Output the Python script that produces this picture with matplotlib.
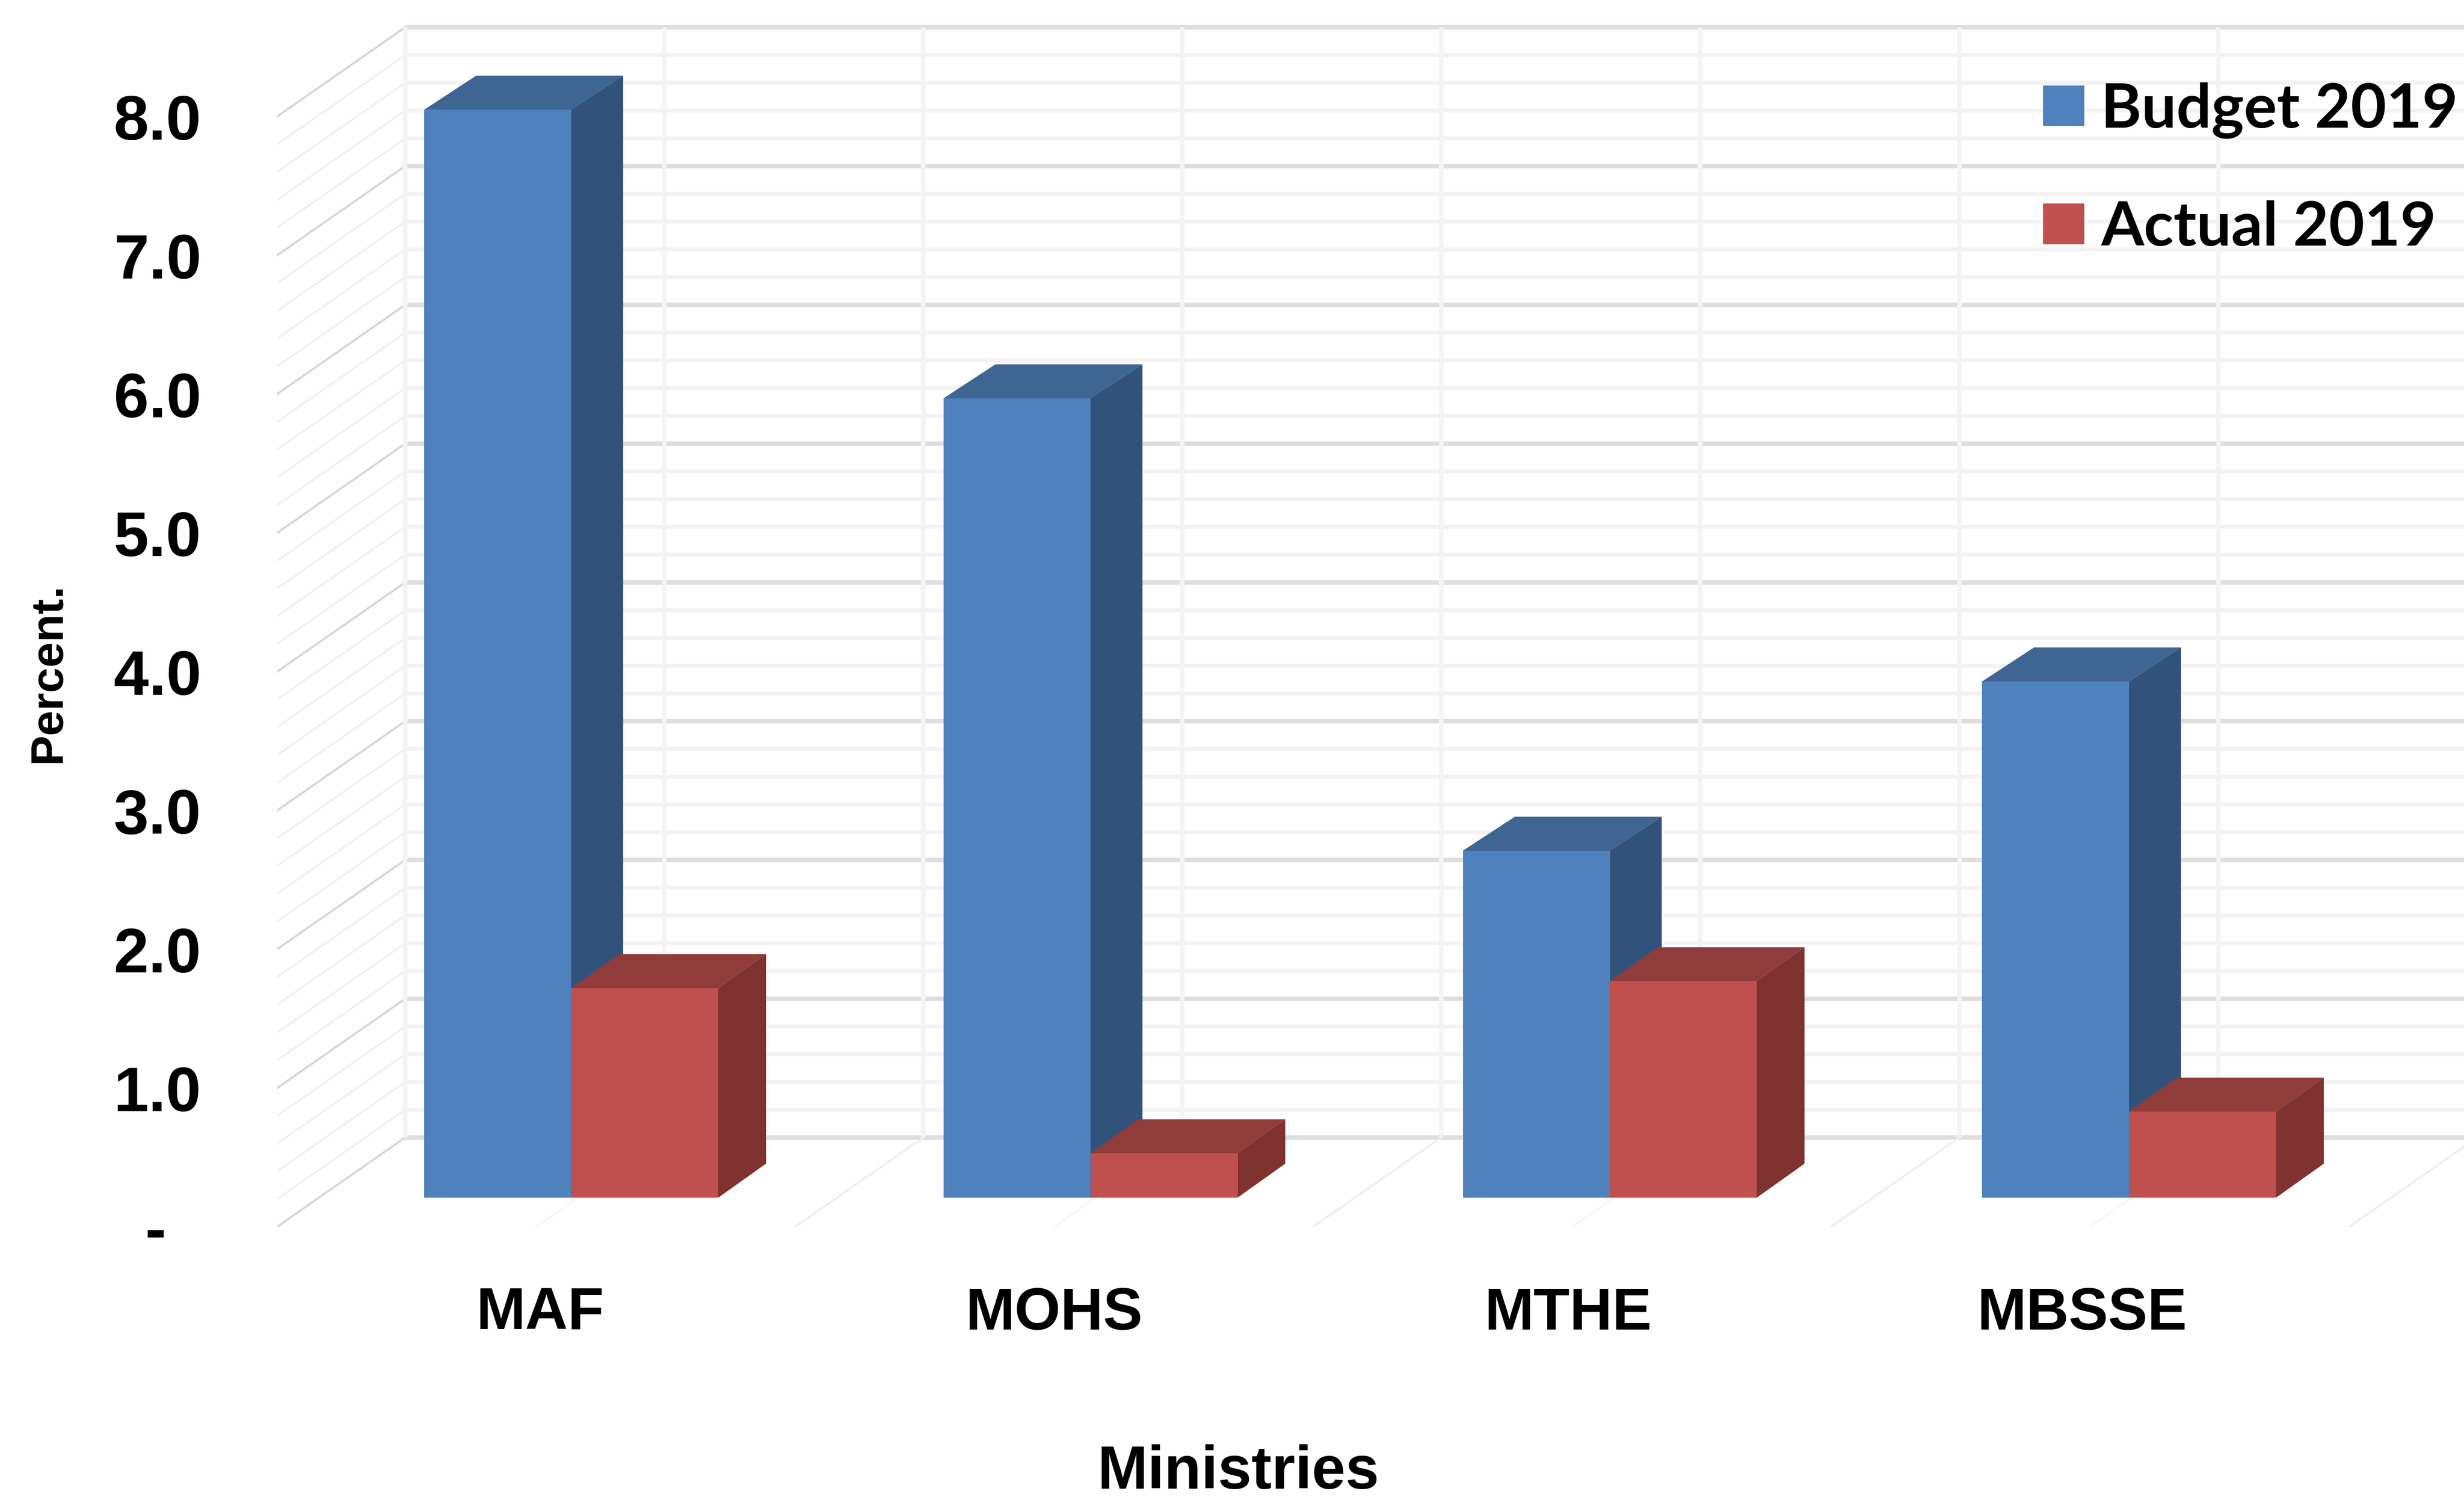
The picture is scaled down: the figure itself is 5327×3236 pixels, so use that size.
import numpy as np
import matplotlib
matplotlib.use("Agg")
import matplotlib.pyplot as plt

# spending by ministry, percent
ministries = ["MAF", "MOHS", "MTHE", "MBSSE"]
budget_2019 = [7.84, 5.76, 2.50, 3.72]
actual_2019 = [1.51, 0.32, 1.56, 0.62]
y_ticks = [0, 1, 2, 3, 4, 5, 6, 7, 8]
y_tick_labels = ["-  ", "1.0", "2.0", "3.0", "4.0", "5.0", "6.0", "7.0", "8.0"]

BG = "#fefefe"
BLUE = ("#4f81bd", "#3f6593", "#31527a")  # front, top, side
RED = ("#c0504d", "#8f3c3a", "#7f3230")

# fake 3D: how far the back wall sits from the front plane, in data units
WALL_DX = 0.2467
WALL_DY = 0.6433
BAR_BASE = 0.21
BAR_W = 0.283
BAR_DX = 0.095
BAR_DY = 0.245

W, H = 5327, 3237
fig = plt.figure(figsize=(W / 100, H / 100), dpi=100, facecolor=BG)
ax = fig.add_axes([599 / W, 1 - 2653 / H, 1 - 599 / W, 2653 / H], facecolor=BG)
ax.set_xlim(-0.5665, 3.645)
ax.set_ylim(0, 2653 / 300)
for s in ax.spines.values():
    s.set_visible(False)

x_left, x_right = ax.get_xlim()

# back wall + side wall grid
for v in np.arange(0, 8.01, 0.2):
    major = abs(v - round(v)) < 1e-6
    ax.plot([x_left + WALL_DX, x_right], [v + WALL_DY] * 2,
            color="#dedede" if major else "#f3f3f3", lw=7 if major else 6,
            solid_capstyle="butt", zorder=1)
    ax.plot([x_left, x_left + WALL_DX], [v, v + WALL_DY],
            color="#d8d8d8" if major else "#eeeeee", lw=3.5 if major else 2.5,
            zorder=1)

# vertical lines on the back wall and the matching floor lines
grid_x = np.arange(x_left + WALL_DX, x_right + 0.1, 0.4988)
for k, gx in enumerate(grid_x):
    ax.plot([gx, gx], [WALL_DY, 8 + WALL_DY], color="#f4f4f4", lw=7,
            solid_capstyle="butt", zorder=1)
    if k > 0:
        ax.plot([gx - WALL_DX, gx], [0, WALL_DY],
                color="#eeeeee" if k % 2 == 0 else "#f7f7f7", lw=3, zorder=1)


def draw_bars(xs, values, colors, depth_x):
    front, top, side = colors
    ax.bar(xs, values, width=BAR_W, bottom=BAR_BASE, color=front, zorder=3)
    for x, v in zip(xs, values):
        x0, x1 = x - BAR_W / 2, x + BAR_W / 2
        y0, y1 = BAR_BASE, BAR_BASE + v
        ax.fill([x0, x1, x1 + depth_x, x0 + depth_x],
                [y1, y1, y1 + BAR_DY, y1 + BAR_DY], color=top, lw=0, zorder=3)
        ax.fill([x1, x1 + depth_x, x1 + depth_x, x1],
                [y0, y0 + BAR_DY, y1 + BAR_DY, y1], color=side, lw=0, zorder=3)


pos = np.arange(len(ministries))
draw_bars(pos - BAR_W / 2, budget_2019, BLUE, BAR_DX + 0.005)
draw_bars(pos + BAR_W / 2, actual_2019, RED, BAR_DX - 0.003)

ax.set_yticks(y_ticks)
ax.set_yticklabels(y_tick_labels, fontfamily="Liberation Sans",
                   fontweight="bold", fontsize=98, color="black")
ax.tick_params(axis="y", length=0, pad=118)
ax.set_xticks(0.99 * pos - 0.06)
ax.set_xticklabels(ministries, fontfamily="Liberation Sans",
                   fontweight="bold", fontsize=92, color="black")
ax.tick_params(axis="x", length=0, pad=92)

ax.set_ylabel("Percent.", fontfamily="Liberation Sans", fontweight="bold",
              fontsize=71, labelpad=0)
ax.yaxis.set_label_coords((150 - 599) / (W - 599), (2653 - 1454) / 2653)
ax.set_xlabel("Ministries", fontfamily="Liberation Sans", fontweight="bold",
              fontsize=94)
ax.xaxis.set_label_coords((2677 - 599) / (W - 599), (2653 - 3122) / 2653)

handles = [plt.Rectangle((0, 0), 1, 1, color=BLUE[0]),
           plt.Rectangle((0, 0), 1, 1, color=RED[0])]
ax.legend(handles, ["Budget 2019", "Actual 2019"], loc="upper left",
          bbox_to_anchor=((4417 - 599) / (W - 599), (2653 - 178) / 2653),
          frameon=False, prop={"family": "Lato", "weight": "bold", "size": 96},
          handlelength=0.66, handleheight=0.62, handletextpad=0.28,
          labelspacing=1.0, borderpad=0, borderaxespad=0)

fig.savefig("out.png", dpi=100, facecolor=BG)
